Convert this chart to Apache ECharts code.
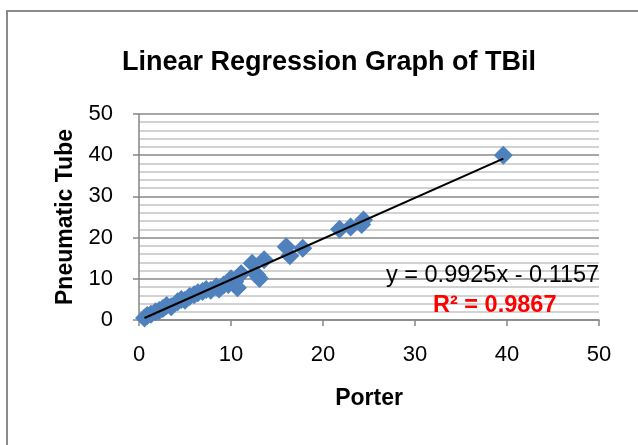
<!DOCTYPE html>
<html>
<head>
<meta charset="utf-8">
<style>
  html, body { margin: 0; padding: 0; background: #ffffff; }
  #chart { width: 638px; height: 445px; }
</style>
<script src="https://cdn.jsdelivr.net/npm/echarts@6/dist/echarts.min.js"></script>
</head>
<body>
<div id="chart"></div>
<script>
// TBil results: Porter (x) vs Pneumatic Tube (y)
const porter = [0.6, 0.9, 1.3, 1.8, 2.2, 2.6, 3.0, 3.5, 4.2, 4.6, 5.0, 5.5, 6.0, 6.4, 6.9, 7.3,
                7.8, 8.4, 8.7, 9.2, 9.7, 10.0, 10.4, 10.7, 11.1, 12.3, 12.8, 13.1, 13.6,
                16.0, 16.4, 17.8, 21.8, 23.0, 24.2, 24.4, 39.6];
const tube   = [0.5, 1.1, 1.4, 2.0, 2.3, 2.8, 3.5, 3.2, 4.4, 5.0, 4.8, 5.7, 6.1, 6.6, 6.9, 7.4,
                7.2, 8.1, 7.5, 8.5, 8.6, 10.0, 9.3, 7.8, 11.2, 13.8, 11.0, 10.1, 14.6,
                17.8, 15.6, 17.4, 22.0, 22.6, 23.2, 24.3, 40.0];

// Fitted regression line
const slope = 0.9925;
const intercept = -0.1157;
const rSquared = 0.9867;

// Axis ticks
const xTicks = [0, 10, 20, 30, 40, 50];
const yTicks = [0, 10, 20, 30, 40, 50];

const points = porter.map((x, i) => [x, tube[i]]);
const xMin = Math.min(...porter);
const xMax = Math.max(...porter);
const fitLine = [[xMin, slope * xMin + intercept], [xMax, slope * xMax + intercept]];

const eqText = 'y = ' + slope.toFixed(4) + 'x ' + (intercept < 0 ? '- ' : '+ ') + Math.abs(intercept).toFixed(4);
const r2Text = 'R\u00B2 = ' + rSquared.toFixed(4);

const FONT = 'Liberation Sans, Arial, sans-serif';
const chart = echarts.init(document.getElementById('chart'), null, { renderer: 'canvas' });

chart.setOption({
  animation: false,
  backgroundColor: '#ffffff',
  title: {
    text: 'Linear Regression Graph of TBil',
    left: 117, top: 44,
    textStyle: { fontFamily: FONT, fontSize: 27, fontWeight: 'bold', color: '#000000' }
  },
  grid: { left: 139, top: 114, width: 460, height: 206 },
  xAxis: {
    type: 'value', min: xTicks[0], max: xTicks[xTicks.length - 1], interval: xTicks[1] - xTicks[0],
    name: 'Porter', nameLocation: 'middle', nameGap: 67,
    nameTextStyle: { fontFamily: FONT, fontSize: 23, fontWeight: 'bold', color: '#000000' },
    axisLine: { show: true, lineStyle: { color: '#868686', width: 1.5 } },
    axisTick: { show: true, inside: false, length: 6, lineStyle: { color: '#868686', width: 1.5 } },
    axisLabel: { margin: 24, fontFamily: FONT, fontSize: 22, color: '#000000' },
    splitLine: { show: false }
  },
  yAxis: {
    type: 'value', min: yTicks[0], max: yTicks[yTicks.length - 1], interval: yTicks[1] - yTicks[0],
    name: 'Pneumatic Tube', nameLocation: 'middle', nameGap: 61, nameRotate: 90,
    nameTextStyle: { fontFamily: FONT, fontSize: 23, fontWeight: 'bold', color: '#000000' },
    axisLine: { show: true, lineStyle: { color: '#868686', width: 1.5 } },
    axisTick: { show: true, inside: false, length: 6, lineStyle: { color: '#868686', width: 1.5 } },
    axisLabel: { margin: 26, fontFamily: FONT, fontSize: 22, color: '#000000' },
    splitLine: { show: true, lineStyle: { color: '#8a8a8a', width: 1.5 } },
    minorTick: { show: false, splitNumber: 5 },
    minorSplitLine: { show: true, lineStyle: { color: '#c4c4c4', width: 1.5 } }
  },
  series: [
    {
      type: 'scatter',
      data: points,
      symbol: 'diamond',
      symbolSize: 19,
      itemStyle: { color: '#4F81BD', opacity: 1 },
      z: 2
    },
    {
      type: 'line',
      data: fitLine,
      symbol: 'none',
      lineStyle: { color: '#000000', width: 2 },
      z: 3
    }
  ],
  graphic: [
    {
      type: 'rect', z: -1, silent: true,
      shape: { x: 7, y: 11, width: 700, height: 500 },
      style: { fill: 'none', stroke: '#8a8a8a', lineWidth: 2 }
    },
    {
      type: 'text', left: 386, top: 264, z: 10,
      style: { text: eqText, font: '23.5px ' + FONT, fill: '#000000' }
    },
    {
      type: 'text', left: 433, top: 294, z: 10,
      style: { text: r2Text, font: 'bold 23.5px ' + FONT, fill: '#FF0000' }
    }
  ]
});
</script>
</body>
</html>
